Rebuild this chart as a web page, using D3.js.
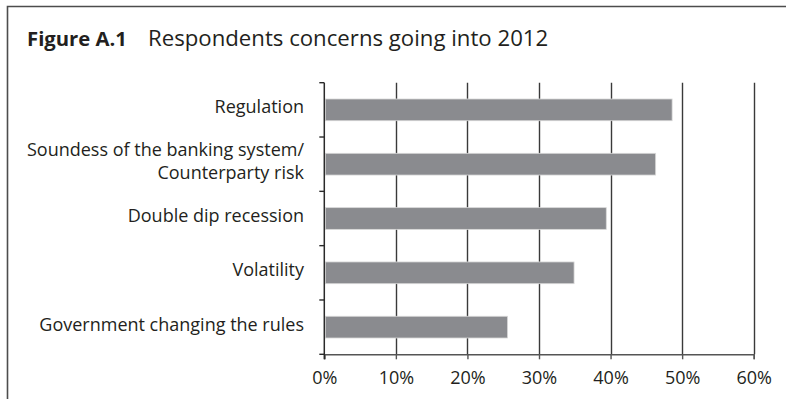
<!DOCTYPE html>
<html><head><meta charset="utf-8">
<script src="https://cdnjs.cloudflare.com/ajax/libs/d3/7.8.5/d3.min.js"></script>
<style>
html,body{margin:0;padding:0;background:#fff;}
svg{display:block;}
text{font-family:"Open Sans",sans-serif;fill:#231f20;}
</style></head>
<body>
<script>
const categories = [
  ["Regulation"],
  ["Soundess of the banking system/", "Counterparty risk"],
  ["Double dip recession"],
  ["Volatility"],
  ["Government changing the rules"]
];
const values = [48.6, 46.3, 39.4, 34.9, 25.6];
const tickValues = [0, 10, 20, 30, 40, 50, 60];
const tickLabels = ["0%", "10%", "20%", "30%", "40%", "50%", "60%"];
const titleBold = "Figure A.1";
const titleText = "Respondents concerns going into 2012";

const W = 786, H = 399;
const svg = d3.select("body").append("svg").attr("width", W).attr("height", H);

// frame
svg.append("path").attr("d", `M7.5,${H} L7.5,6.5 L${W},6.5`)
  .attr("fill", "none").attr("stroke", "#4d4d4d").attr("stroke-width", 1.6);

// title
const t = svg.append("text").attr("x", 27).attr("y", 46);
t.append("tspan").text(titleBold).style("font-weight", "bold").style("font-size", "20.3px");
t.append("tspan").attr("x", 148).text(titleText).style("font-size", "22.2px");

const x0 = 324.3, x1 = 753.7, yTop = 82.7, yBot = 354.3;
const x = d3.scaleLinear().domain([0, 60]).range([x0, x1]);
const keys = categories.map((c, i) => i);
const y = d3.scaleBand().domain(keys).range([yTop, yBot]).paddingInner(0.6).paddingOuter(0.3);

// gridlines
svg.append("g").selectAll("line").data(tickValues.slice(1)).join("line")
  .attr("x1", d => Math.round(x(d)) + 0.5).attr("x2", d => Math.round(x(d)) + 0.5)
  .attr("y1", yTop).attr("y2", yBot)
  .attr("stroke", "#3a3a3a").attr("stroke-width", 1.4);

// bars
svg.append("g").selectAll("rect").data(values).join("rect")
  .attr("x", x(0) + 1).attr("y", (d, i) => y(i))
  .attr("width", d => x(d) - x(0) - 1).attr("height", y.bandwidth())
  .attr("fill", "#8a8b8f").attr("stroke", "#d8d8d8").attr("stroke-width", 0.8);

// x axis
const xAxis = d3.axisBottom(x).tickValues(tickValues)
  .tickFormat((d, i) => tickLabels[i]).tickSize(5).tickPadding(12);
const gx = svg.append("g").attr("transform", `translate(0,${yBot})`).call(xAxis);
gx.select(".domain").attr("stroke", "#555").attr("stroke-width", 1.4);
gx.selectAll(".tick line").attr("stroke", "#555").attr("stroke-width", 1.4);
gx.selectAll(".tick text").style("font-size", "18px").attr("fill", "#231f20")
  .style("font-family", "\"Open Sans\",sans-serif");

// y axis line and ticks at band boundaries
const bounds = d3.range(categories.length + 1).map(i => yTop + i * (yBot - yTop) / categories.length);
svg.append("line").attr("x1", x0).attr("x2", x0).attr("y1", yTop).attr("y2", yBot + 5)
  .attr("stroke", "#2a2a2a").attr("stroke-width", 1.5);
svg.append("g").selectAll("line").data(bounds).join("line")
  .attr("x1", x0 - 5).attr("x2", x0).attr("y1", d => d).attr("y2", d => d)
  .attr("stroke", "#2a2a2a").attr("stroke-width", 1.4);

// category labels
const lh = 22.7;
const labels = svg.append("g");
categories.forEach((lines, i) => {
  const cy = y(i) + y.bandwidth() / 2;
  const txt = labels.append("text").attr("text-anchor", "end").style("font-size", "18px");
  lines.forEach((ln, j) => {
    txt.append("tspan").attr("x", 304)
      .attr("y", cy + 3.5 + (j - (lines.length - 1) / 2) * lh).text(ln);
  });
});
</script>
</body></html>
